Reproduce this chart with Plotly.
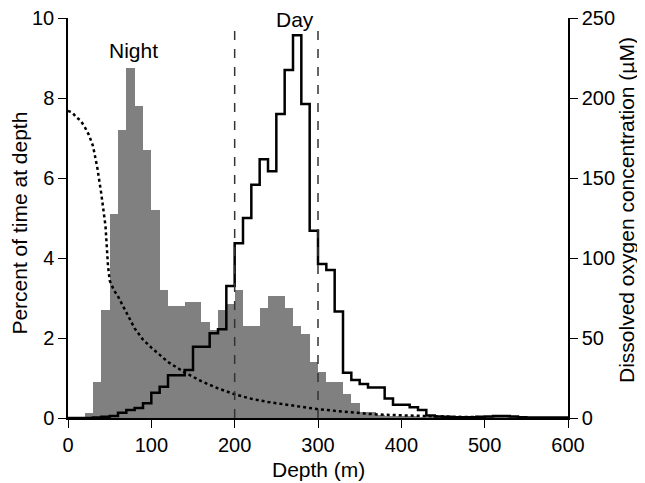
import plotly.graph_objects as go

# ---- data ----
bin_start = list(range(0, 600, 10))  # 10 m depth bins

night_pct = [0, 0, 0.13, 0.9, 2.7, 5.1, 7.2, 8.75, 7.8, 6.7,
             5.2, 3.2, 2.8, 2.8, 2.9, 2.9, 2.4, 2.2, 2.7, 2.85,
             3.2, 2.3, 2.3, 2.75, 3.05, 3.05, 2.75, 2.3, 2.1, 1.4,
             1.15, 0.9, 0.9, 0.6, 0.37, 0.15, 0.15, 0.08, 0.06, 0.05,
             0.04, 0.03, 0.02, 0.02, 0.01, 0.01, 0.01, 0.01, 0.01, 0.01,
             0.01, 0.01, 0.02, 0.02, 0.01, 0.01, 0.0, 0.0, 0.0, 0.0]

day_pct = [0, 0, 0, 0.01, 0.03, 0.05, 0.13, 0.2, 0.25, 0.37,
           0.63, 0.78, 1.07, 1.07, 1.2, 1.78, 1.78, 2.12, 2.22, 3.3,
           4.37, 5.0, 5.83, 6.47, 6.17, 7.6, 8.7, 9.57, 7.85, 4.68,
           3.85, 3.7, 2.66, 1.13, 0.95, 0.85, 0.76, 0.76, 0.49, 0.33,
           0.33, 0.27, 0.2, 0.06, 0.04, 0.03, 0.02, 0.02, 0.02, 0.03,
           0.04, 0.05, 0.05, 0.04, 0.02, 0.01, 0.01, 0.01, 0.01, 0.01]

oxy_depth = [0, 5, 10, 15, 20, 25, 30, 35, 40, 45, 48, 50, 55, 60, 70, 80, 90, 100,
             120, 140, 160, 180, 200, 220, 240, 260, 280, 300, 320, 340, 360,
             380, 400, 420, 440, 460, 480, 500]
oxy_um = [192, 191, 188, 186, 182, 177, 170, 157, 140, 120, 95, 86, 80, 76, 66, 56, 49, 44,
          35, 28.5, 23, 18.5, 14.8, 12, 10, 8.5, 7, 5.5, 4.5, 3.5, 2.6,
          2, 1.6, 1.2, 1, 0.8, 0.6, 0.5]

x_ticks = [0, 100, 200, 300, 400, 500, 600]
y_ticks = [0, 2, 4, 6, 8, 10]
y2_ticks = [0, 50, 100, 150, 200, 250]

FONT = "Liberation Sans, Arial, sans-serif"
FS = 20

bin_center = [b + 5 for b in bin_start]
edges = bin_start + [600]

fig = go.Figure()
fig.add_trace(go.Bar(x=bin_center, y=night_pct, width=10,
                     marker=dict(color="#808080", line=dict(width=0)),
                     showlegend=False, hoverinfo="skip"))
fig.add_trace(go.Scatter(x=oxy_depth, y=oxy_um, yaxis="y2", mode="lines",
                         line=dict(color="black", width=2.5, dash="dot"),
                         showlegend=False))
fig.add_trace(go.Scatter(x=edges, y=day_pct + [day_pct[-1]], mode="lines",
                         line=dict(color="black", width=2.5, shape="hv"),
                         showlegend=False))

for xv in (200, 300):
    fig.add_shape(type="line", xref="x", yref="y", x0=xv, x1=xv, y0=0, y1=9.88,
                  line=dict(color="#333333", width=1.5, dash="dash"), layer="above")

fig.add_annotation(x=79, y=9.2, xref="x", yref="y", text="Night", showarrow=False,
                   font=dict(family=FONT, size=21, color="black"))
fig.add_annotation(x=272, y=9.97, xref="x", yref="y", text="Day", showarrow=False,
                   font=dict(family=FONT, size=21, color="black"))

# axis titles
fig.add_annotation(x=-0.096, y=0.486, xref="paper", yref="paper", textangle=-90,
                   text="Percent of time at depth", showarrow=False,
                   xanchor="center", yanchor="middle",
                   font=dict(family=FONT, size=21, color="black"))
fig.add_annotation(x=1.116, y=0.52, xref="paper", yref="paper", textangle=-90,
                   text="Dissolved oxygen concentration (µM)", showarrow=False,
                   xanchor="center", yanchor="middle",
                   font=dict(family=FONT, size=21, color="black"))
fig.add_annotation(x=0.5, y=-0.1275, xref="paper", yref="paper",
                   text="Depth (m)", showarrow=False,
                   xanchor="center", yanchor="middle",
                   font=dict(family=FONT, size=21, color="black"))

axis_common = dict(showgrid=False, zeroline=False, showline=True, linecolor="black",
                   linewidth=1.5, ticks="outside", ticklen=8, tickwidth=1.2,
                   tickcolor="black", automargin=False, ticklabeloverflow="allow",
                   tickfont=dict(family=FONT, size=FS, color="black"))

fig.update_layout(
    width=645, height=483,
    margin=dict(l=60, r=85, t=10, b=73),
    paper_bgcolor="white", plot_bgcolor="white",
    bargap=0, showlegend=False,
    font=dict(family=FONT, size=FS, color="black"),
    xaxis=dict(range=[0, 600], tickvals=x_ticks, **axis_common),
    yaxis=dict(range=[0, 10], tickvals=y_ticks, **axis_common),
    yaxis2=dict(range=[0, 250], tickvals=y2_ticks, overlaying="y", side="right",
                **axis_common),
)

fig.write_html("out.html")
